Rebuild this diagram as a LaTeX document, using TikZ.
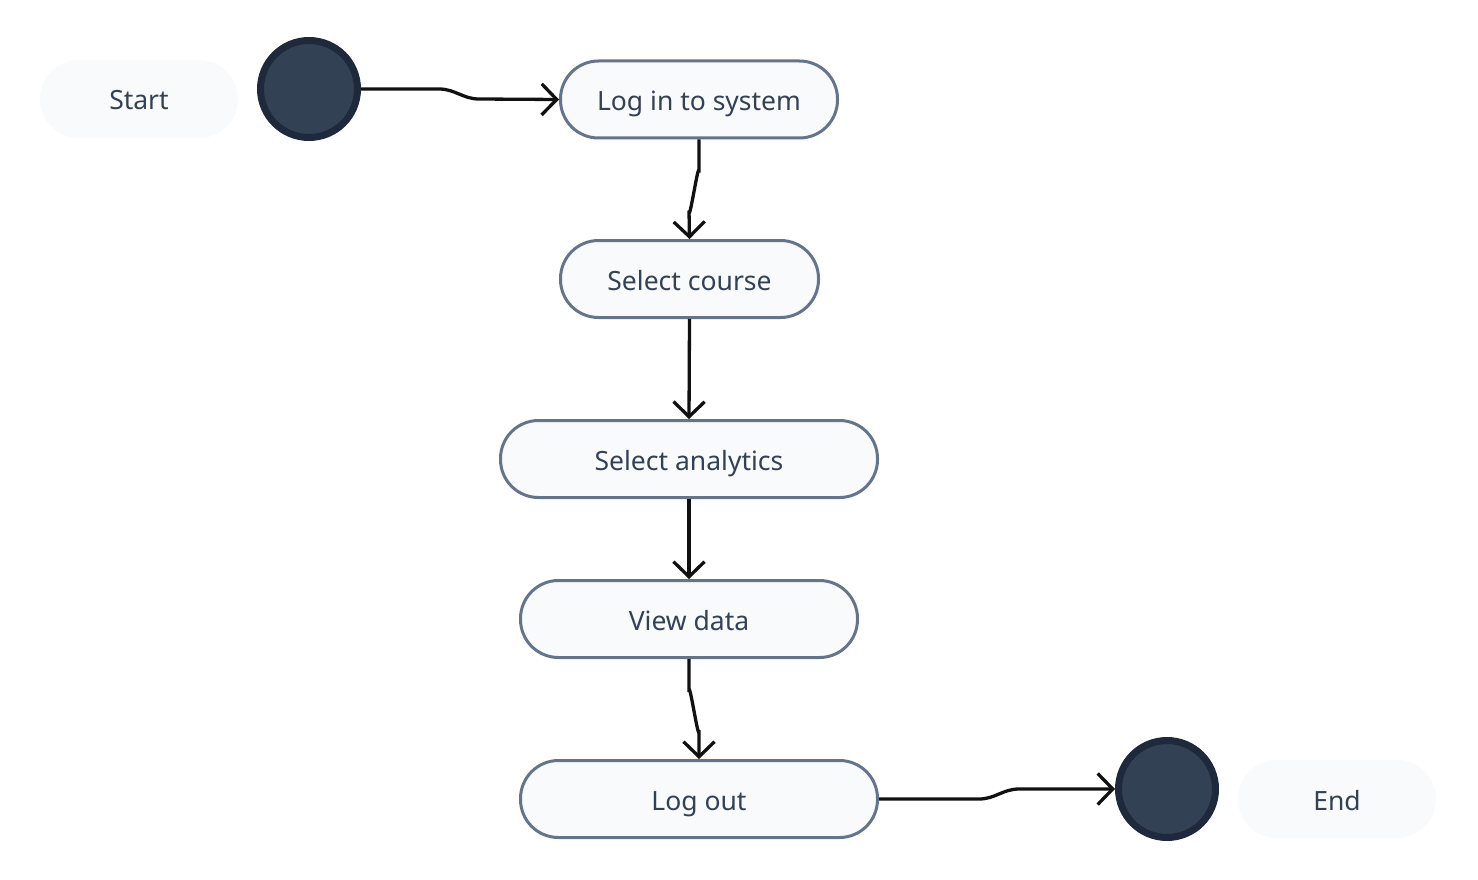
\documentclass[tikz,border=0pt]{standalone}
\usepackage{fontspec}
\setmainfont{Noto Sans}
\usetikzlibrary{arrows.meta}
\definecolor{pillfill}{HTML}{F8FAFC}
\definecolor{pillline}{HTML}{64748B}
\definecolor{dotfill}{HTML}{334155}
\definecolor{dotline}{HTML}{1E293B}
\definecolor{txt}{HTML}{334155}
\definecolor{conn}{HTML}{111111}
\tikzset{
  txtstyle/.style={text=txt, font=\fontsize{26.5}{30}\selectfont, text height=22pt, text depth=0pt},
  act/.style={draw=pillline, fill=pillfill, line width=3pt, rounded corners=38pt,
    minimum height=77pt, inner sep=0pt, txtstyle},
  lbl/.style={fill=pillfill, rounded corners=39pt, minimum height=78pt, minimum width=198pt,
    inner sep=0pt, txtstyle},
  dot/.style={circle, draw=dotline, fill=dotfill, line width=7pt, minimum size=97pt, inner sep=0pt},
  flow/.style={draw=conn, line width=3.3pt, -{Straight Barb[length=15pt,width=31pt,line width=3.3pt]}},
}
\begin{document}
\begin{tikzpicture}[x=1pt,y=-1pt]
\useasboundingbox (0,0) rectangle (1478,880);
\node[lbl] (startlbl) at (139,99) {Start};
\node[dot] (init) at (309,89) {};
\node[act, minimum width=277pt] (login) at (699,99.5) {Log in to system};
\node[act, minimum width=258pt] (course) at (689.5,279) {Select course};
\node[act, minimum width=377pt] (analytics) at (689,459) {Select analytics};
\node[act, minimum width=337pt] (view) at (689,619) {View data};
\node[act, minimum width=357pt] (logout) at (699,799) {Log out};
\node[dot] (final) at (1167,789) {};
\node[lbl] (endlbl) at (1337,799) {End};

\draw[flow] (init.east) -- ++(78,0) to[out=0,in=180] ++(40,10) -- (login.west);
\draw[flow] (login.south) -- ++(0,33) to[out=90,in=-90] ++(-10,38) -- (course.north);
\draw[flow] (course.south) -- (analytics.north);
\draw[flow] (analytics.south) -- (view.north);
\draw[flow] (view.south) -- ++(0,33) to[out=90,in=-90] ++(10,38) -- (logout.north);
\draw[flow] (logout.east) -- ++(100,0) to[out=0,in=180] ++(40,-10) -- (final.west);
\end{tikzpicture}
\end{document}
